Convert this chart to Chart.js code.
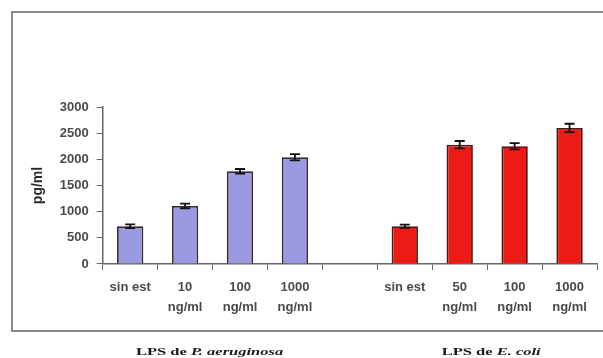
<!DOCTYPE html>
<html>
<head>
<meta charset="utf-8">
<script src="https://cdn.jsdelivr.net/npm/chart.js@4"></script>
<style>
  html, body { margin: 0; padding: 0; background: #fff; }
  #wrap { position: relative; width: 603px; height: 358px; }
</style>
</head>
<body>
<div id="wrap"><canvas id="chart" width="603" height="358"></canvas></div>
<script>
const categories = [['sin est'], ['10', 'ng/ml'], ['100', 'ng/ml'], ['1000', 'ng/ml'], '',
                    ['sin est'], ['50', 'ng/ml'], ['100', 'ng/ml'], ['1000', 'ng/ml']];
const aeruginosaValues = [720, 1110, 1770, 2040];
const aeruginosaErrors = [35, 45, 45, 60];
const coliValues = [720, 2280, 2250, 2600];
const coliErrors = [30, 70, 60, 80];
const yTicks = [0, 500, 1000, 1500, 2000, 2500, 3000];
const groupLabels = [['LPS de ', 'P. aeruginosa'], ['LPS de ', 'E. coli']];

const blueData = aeruginosaValues.concat([null, null, null, null, null]);
const redData = [null, null, null, null, null].concat(coliValues);
const blueErr = aeruginosaErrors.concat([0, 0, 0, 0, 0]);
const redErr = [0, 0, 0, 0, 0].concat(coliErrors);

const errorBars = {
    id: 'errorBars',
    afterDatasetsDraw(chart) {
        const ctx = chart.ctx;
        const y = chart.scales.y;
        const errs = [blueErr, redErr];
        ctx.save();
        ctx.strokeStyle = '#111';
        ctx.lineWidth = 1.8;
        chart.data.datasets.forEach((ds, di) => {
            const meta = chart.getDatasetMeta(di);
            meta.data.forEach((bar, i) => {
                const v = ds.data[i];
                if (v == null) return;
                const e = errs[di][i];
                const top = y.getPixelForValue(v + e);
                const bot = y.getPixelForValue(v - e);
                ctx.beginPath();
                ctx.moveTo(bar.x, top); ctx.lineTo(bar.x, bot);
                ctx.moveTo(bar.x - 5, top); ctx.lineTo(bar.x + 5, top);
                ctx.moveTo(bar.x - 5, bot); ctx.lineTo(bar.x + 5, bot);
                ctx.stroke();
            });
        });
        ctx.restore();
    }
};

const frameAndGroups = {
    id: 'frameAndGroups',
    beforeDraw(chart) {
        const ctx = chart.ctx;
        ctx.save();
        ctx.fillStyle = '#fff';
        ctx.fillRect(0, 0, chart.width, chart.height);
        ctx.strokeStyle = '#8f8a8a';
        ctx.lineWidth = 2;
        ctx.strokeRect(12, 12, 600, 319);
        ctx.restore();
    },
    afterDraw(chart) {
        const ctx = chart.ctx;
        const x = chart.scales.x;
        const centers = [(x.getPixelForValue(1) + x.getPixelForValue(2)) / 2 - 3,
                         (x.getPixelForValue(6) + x.getPixelForValue(7)) / 2 + 4];
        const sx = 1.5;
        ctx.save();
        ctx.fillStyle = '#1a1a1a';
        ctx.textBaseline = 'middle';
        groupLabels.forEach((parts, gi) => {
            ctx.font = 'bold 11px "Liberation Serif"';
            const w1 = ctx.measureText(parts[0]).width;
            ctx.font = 'bold italic 11px "Liberation Serif"';
            const w2 = ctx.measureText(parts[1]).width;
            const x0 = centers[gi] - (w1 + w2) * sx / 2;
            ctx.save();
            ctx.translate(x0, 352);
            ctx.scale(sx, 1);
            ctx.font = 'bold 11px "Liberation Serif"';
            ctx.fillText(parts[0], 0, 0);
            ctx.font = 'bold italic 11px "Liberation Serif"';
            ctx.fillText(parts[1], w1, 0);
            ctx.restore();
        });
        ctx.restore();
    }
};

new Chart(document.getElementById('chart'), {
    type: 'bar',
    data: {
        labels: categories,
        datasets: [
            { data: blueData, backgroundColor: '#9a9ae0', borderColor: '#3a2a30', borderWidth: 1.8,
              grouped: false, categoryPercentage: 1, barPercentage: 0.48 },
            { data: redData, backgroundColor: '#ec1b16', borderColor: '#4a1a14', borderWidth: 1.8,
              grouped: false, categoryPercentage: 1, barPercentage: 0.48 }
        ]
    },
    options: {
        responsive: false,
        animation: false,
        layout: { padding: { left: 24, right: 6, top: 107, bottom: 34 } },
        plugins: { legend: { display: false }, tooltip: { enabled: false } },
        scales: {
            x: {
                offset: true,
                grid: { offset: true, drawOnChartArea: false, color: '#666', tickLength: 6 },
                border: { color: '#666', width: 1.5 },
                ticks: { color: '#4a4a4a', font: { family: 'Liberation Sans', size: 13, weight: 'bold', lineHeight: 1.54 },
                         maxRotation: 0, autoSkip: false, padding: 7 }
            },
            y: {
                min: 0, max: 3000,
                afterBuildTicks: (axis) => { axis.ticks = yTicks.map(v => ({ value: v })); },
                grid: { drawOnChartArea: false, color: '#666', tickLength: 6 },
                border: { color: '#666', width: 1.5 },
                ticks: { color: '#4a4a4a', font: { family: 'Liberation Sans', size: 13, weight: 'bold' }, padding: 8,
                         callback: (v) => String(v) },
                title: { display: true, text: 'pg/ml', color: '#2a2a2a', font: { family: 'Liberation Sans', size: 14, weight: 'bold' },
                         padding: { top: 6, bottom: 5 } }
            }
        }
    },
    plugins: [errorBars, frameAndGroups]
});
</script>
</body>
</html>
